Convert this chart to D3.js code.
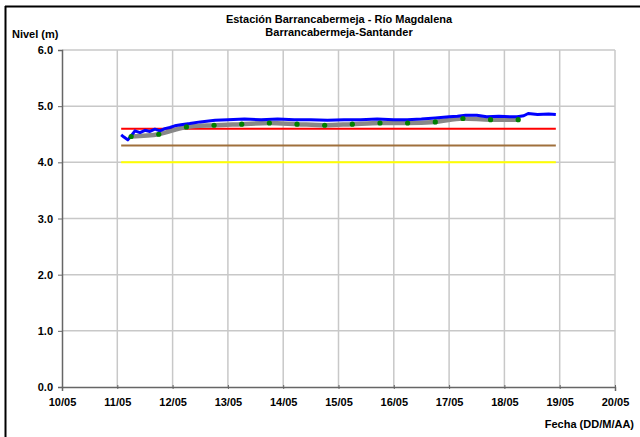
<!DOCTYPE html>
<html><head><meta charset="utf-8">
<script src="https://cdn.jsdelivr.net/npm/d3@7"></script>
<style>
body{margin:0;background:#fff;overflow:hidden;}
svg{display:block;}
svg text{font-family:"Liberation Sans",Arial,sans-serif;font-weight:bold;}
</style></head>
<body>
<svg id="c" width="640" height="437"></svg>
<script>
// Data (day of May, decimal)
const xTickDays = [10,11,12,13,14,15,16,17,18,19,20];
const xTickLabels = ["10/05","11/05","12/05","13/05","14/05","15/05","16/05","17/05","18/05","19/05","20/05"];
const yTicks = [0,1,2,3,4,5,6];

const blueDays = [11.07,11.12,11.19,11.25,11.32,11.41,11.5,11.59,11.68,11.77,11.86,11.95,12.04,12.15,12.31,12.5,12.77,13.0,13.3,13.6,13.9,14.2,14.5,14.8,15.1,15.4,15.7,16.0,16.24,16.5,16.75,17.0,17.15,17.3,17.5,17.68,17.9,18.1,18.23,18.35,18.43,18.6,18.8,18.93];
const blueLevels = [4.49,4.45,4.40,4.47,4.56,4.53,4.57,4.55,4.59,4.56,4.60,4.62,4.65,4.67,4.69,4.72,4.75,4.76,4.77,4.76,4.77,4.76,4.76,4.75,4.76,4.76,4.77,4.76,4.76,4.77,4.79,4.81,4.82,4.84,4.84,4.81,4.82,4.81,4.81,4.83,4.87,4.85,4.86,4.85];

const grayDays = [11.25,11.75,12.25,12.75,13.25,13.75,14.25,14.75,15.25,15.75,16.25,16.75,17.25,17.75,18.25];
const grayLevels = [4.46,4.50,4.63,4.66,4.68,4.70,4.68,4.66,4.68,4.70,4.70,4.72,4.78,4.76,4.76];

const refStart = 11.07, refEnd = 18.93;
const refLevels = [4.6, 4.3, 4.0];
const refColors = ["#ff0000","#a0703c","#ffff00"];

const svg = d3.select("#c");
const m = {l:62, r:615, t:50, b:387};
const x = d3.scaleLinear().domain([10,20]).range([m.l,m.r]);
const y = d3.scaleLinear().domain([0,6]).range([m.b,m.t]);

// outer frame (only top and left edges visible)
svg.append("line").attr("x1",5).attr("x2",640).attr("y1",6.5).attr("y2",6.5).attr("stroke","#000").attr("stroke-width",2);
svg.append("line").attr("x1",5.5).attr("x2",5.5).attr("y1",6).attr("y2",437).attr("stroke","#000").attr("stroke-width",2);

// gridlines
const g = svg.append("g");
g.selectAll(".vg").data(xTickDays.slice(1)).enter().append("line")
  .attr("x1",d=>x(d)).attr("x2",d=>x(d)).attr("y1",m.t).attr("y2",m.b)
  .attr("stroke","#c8c8c8").attr("stroke-width",1.5);
g.selectAll(".hg").data(yTicks.slice(1)).enter().append("line")
  .attr("x1",m.l).attr("x2",m.r).attr("y1",d=>y(d)).attr("y2",d=>y(d))
  .attr("stroke","#c8c8c8").attr("stroke-width",1.5);

// axes
const xAxis = d3.axisBottom(x).tickValues(xTickDays).tickFormat((d,i)=>xTickLabels[i]).tickSize(4).tickPadding(5);
const ax = svg.append("g").attr("transform",`translate(0,${m.b})`).call(xAxis);
ax.select(".domain").attr("stroke","#666").attr("stroke-width",1.5);
ax.selectAll(".tick line").attr("stroke","#666").attr("transform","translate(0,-2)");
ax.selectAll("text").attr("font-size",11).attr("fill","#000").attr("dy","0.9em");

const yAxis = d3.axisLeft(y).tickValues(yTicks).tickFormat(d3.format(".1f")).tickSize(4).tickPadding(5);
const ay = svg.append("g").attr("transform",`translate(${m.l},0)`).call(yAxis);
ay.select(".domain").attr("stroke","#666").attr("stroke-width",1.5);
ay.selectAll(".tick line").attr("stroke","#666");
ay.selectAll("text").attr("font-size",11).attr("fill","#000");

// reference lines
svg.selectAll(".ref").data(refLevels).enter().append("line")
  .attr("x1",x(refStart)).attr("x2",x(refEnd)).attr("y1",d=>y(d)).attr("y2",d=>y(d))
  .attr("stroke",(d,i)=>refColors[i]).attr("stroke-width",2);

// gray line
const line = d3.line().x(d=>x(d[0])).y(d=>y(d[1])).curve(d3.curveMonotoneX);
svg.append("path").datum(grayDays.map((d,i)=>[d,grayLevels[i]]))
  .attr("d",line).attr("fill","none").attr("stroke","#888").attr("stroke-width",4.5);

// blue line
svg.append("path").datum(blueDays.map((d,i)=>[d,blueLevels[i]]))
  .attr("d",d3.line().x(d=>x(d[0])).y(d=>y(d[1])))
  .attr("fill","none").attr("stroke","#0000ff").attr("stroke-width",3).attr("stroke-linejoin","round");

// green dots
svg.selectAll(".dot").data(grayDays).enter().append("circle")
  .attr("cx",d=>x(d)).attr("cy",(d,i)=>y(grayLevels[i])).attr("r",2.6).attr("fill","#008000");

// titles
svg.append("text").attr("x",339).attr("y",23).attr("text-anchor","middle").attr("font-size",11)
  .text("Estación Barrancabermeja - Río Magdalena");
svg.append("text").attr("x",339).attr("y",36).attr("text-anchor","middle").attr("font-size",11)
  .text("Barrancabermeja-Santander");
svg.append("text").attr("x",12).attr("y",38).attr("font-size",11).text("Nivel (m)");
svg.append("text").attr("x",634).attr("y",428).attr("text-anchor","end").attr("font-size",11).text("Fecha (DD/M/AA)");
</script>
</body></html>
